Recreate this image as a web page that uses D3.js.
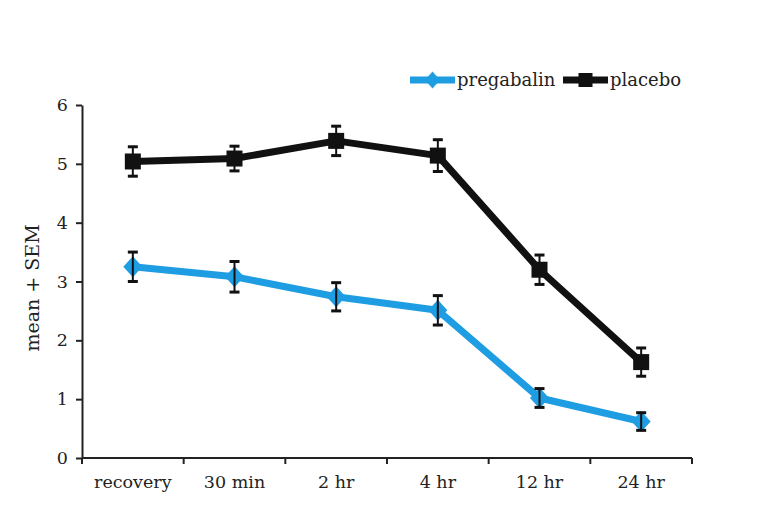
<!DOCTYPE html>
<html><head><meta charset="utf-8">
<script src="https://cdn.jsdelivr.net/npm/d3@7"></script>
<style>body{margin:0;background:#fff}svg{display:block}</style>
</head><body>
<svg id="chart" width="771" height="518"></svg>
<script>
const categories = ["recovery", "30 min", "2 hr", "4 hr", "12 hr", "24 hr"];
const pregabalin = [3.25, 3.08, 2.74, 2.51, 1.02, 0.62];
const pregabalinErr = [0.25, 0.26, 0.24, 0.25, 0.16, 0.15];
const placebo = [5.04, 5.09, 5.39, 5.14, 3.2, 1.63];
const placeboErr = [0.25, 0.21, 0.25, 0.27, 0.25, 0.24];
const yTicks = [0, 1, 2, 3, 4, 5, 6];
const seriesNames = ["pregabalin", "placebo"];

const svg = d3.select("#chart");
const m = {left: 82, right: 79, top: 105, bottom: 60};
const W = 771, H = 518;
const font = "'DejaVu Serif', 'Liberation Serif', serif";

const x = d3.scaleBand().domain(categories).range([m.left, W - m.right]);
const y = d3.scaleLinear().domain([0, 6]).range([H - m.bottom, m.top]);
const cx = c => x(c) + x.bandwidth() / 2;

// axes
const yAxis = svg.append("g").attr("transform", `translate(${m.left},0)`)
  .call(d3.axisLeft(y).tickValues(yTicks).tickFormat(d3.format("d")).tickSize(6).tickPadding(8).tickSizeOuter(0));
const xAxis = svg.append("g").attr("transform", `translate(0,${H - m.bottom})`)
  .call(d3.axisBottom(x).tickSize(0).tickPadding(18));
// x ticks at band boundaries
const bounds = categories.map(c => x(c)).concat([x(categories[categories.length - 1]) + x.bandwidth()]);
xAxis.selectAll(".bnd").data(bounds).enter().append("line")
  .attr("x1", d => d).attr("x2", d => d).attr("y1", 0).attr("y2", 6)
  .attr("stroke", "#222").attr("stroke-width", 2);
[yAxis, xAxis].forEach(a => {
  a.select(".domain").attr("stroke", "#222").attr("stroke-width", 2);
  a.selectAll(".tick line").attr("stroke", "#222").attr("stroke-width", 2);
  a.selectAll("text").attr("font-family", font).attr("font-size", 17.5).attr("fill", "#222");
});
xAxis.select(".domain").attr("d", `M${m.left},0H${W - m.right}`);

// y label
svg.append("text").attr("transform", `translate(39,288) rotate(-90)`)
  .attr("text-anchor", "middle").attr("font-family", font).attr("font-size", 19).attr("fill", "#222")
  .text("mean + SEM");

const series = [
  {name: seriesNames[0], vals: pregabalin, err: pregabalinErr, color: "#1e9de2", shape: "diamond"},
  {name: seriesNames[1], vals: placebo, err: placeboErr, color: "#111111", shape: "square"}
];

const line = d3.line().x((d, i) => cx(categories[i])).y(d => y(d));

function drawMarker(g, shape, color, px, py, s) {
  if (shape === "square") {
    g.append("rect").attr("x", px - s / 2).attr("y", py - s / 2).attr("width", s).attr("height", s).attr("fill", color);
  } else {
    g.append("path").attr("d", `M${px - s / 2},${py}L${px},${py - s / 2 - 1}L${px + s / 2},${py}L${px},${py + s / 2 + 1}Z`).attr("fill", color);
  }
}

series.forEach(s => {
  const g = svg.append("g");
  g.append("path").datum(s.vals).attr("d", line).attr("fill", "none")
    .attr("stroke", s.color).attr("stroke-width", 7).attr("stroke-linejoin", "round");
  s.vals.forEach((v, i) => {
    const px = cx(categories[i]);
    drawMarker(g, s.shape, s.color, px, y(v), s.shape === "square" ? 16 : 19);
  });
  s.vals.forEach((v, i) => {
    const px = cx(categories[i]);
    const y1 = y(v + s.err[i]), y2 = y(v - s.err[i]);
    g.append("line").attr("x1", px).attr("x2", px).attr("y1", y1).attr("y2", y2).attr("stroke", "#111").attr("stroke-width", 2);
    [y1, y2].forEach(yy => g.append("line").attr("x1", px - 5).attr("x2", px + 5).attr("y1", yy).attr("y2", yy)
      .attr("stroke", "#111").attr("stroke-width", 3));
  });
});

// legend
const leg = svg.append("g");
const legX = [410, 563];
series.forEach((s, i) => {
  const lx = legX[i], ly = 80;
  leg.append("line").attr("x1", lx).attr("x2", lx + 45).attr("y1", ly).attr("y2", ly)
    .attr("stroke", s.color).attr("stroke-width", 7);
  drawMarker(leg, s.shape, s.color, lx + 22.5, ly, s.shape === "square" ? 14 : 15);
  leg.append("text").attr("x", lx + 47).attr("y", ly + 6).attr("font-family", font).attr("font-size", 18)
    .attr("fill", "#222").text(s.name);
});
</script>
</body></html>
